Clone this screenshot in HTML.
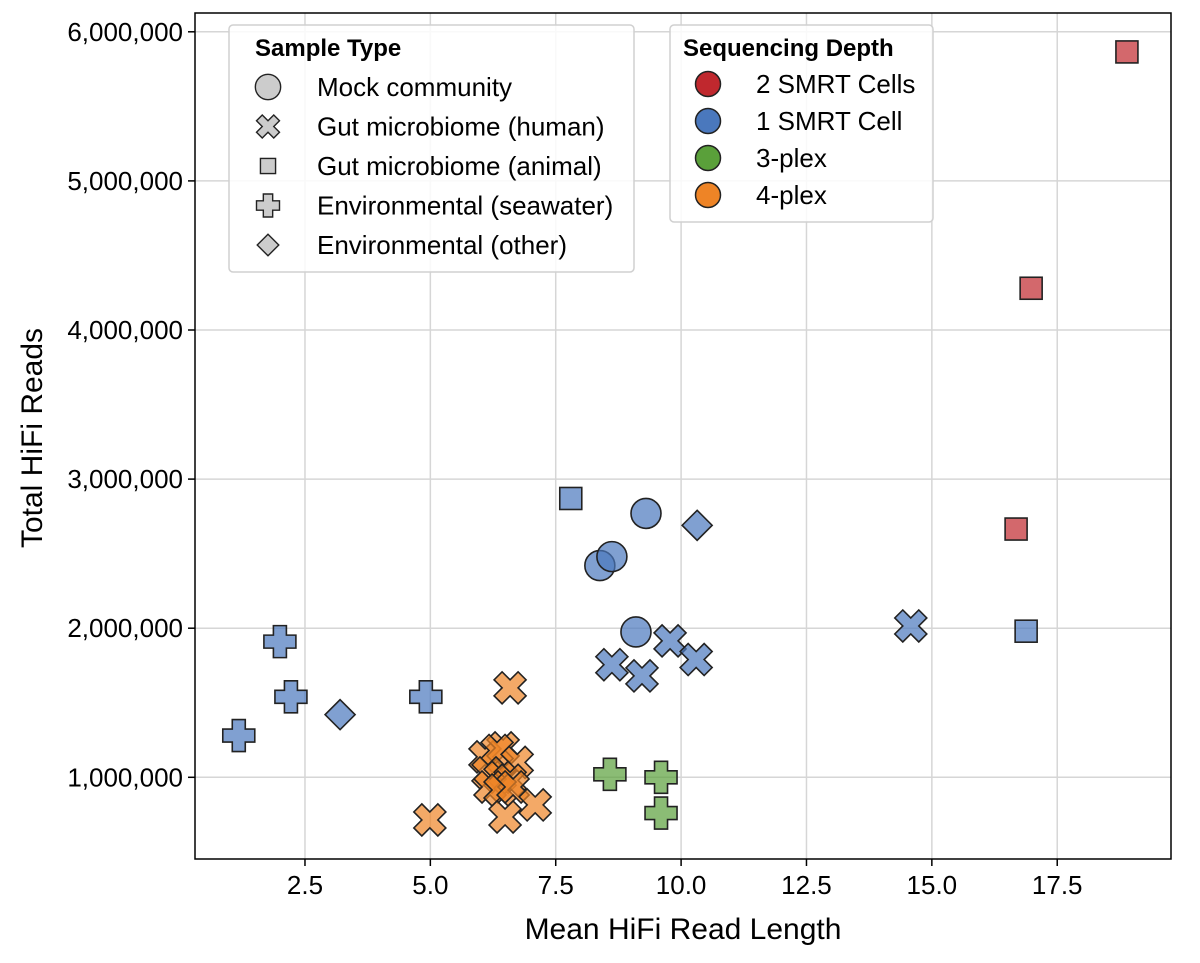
<!DOCTYPE html>
<html><head><meta charset="utf-8"><style>
body{margin:0;background:#fff;}
svg{display:block;font-family:"Liberation Sans",Arial,sans-serif;}
</style></head><body>
<svg id="chart" width="1200" height="963">
<g id="grid"></g>
<g id="axes"></g>
<g id="marks"></g>
<g id="legends"></g>
</svg>
<script>
const xTicks=[2.5,5.0,7.5,10.0,12.5,15.0,17.5];
const xTickLabels=["2.5","5.0","7.5","10.0","12.5","15.0","17.5"];
const yTicks=[1000000,2000000,3000000,4000000,5000000,6000000];
const yTickLabels=["1,000,000","2,000,000","3,000,000","4,000,000","5,000,000","6,000,000"];
const depthNames=["2 SMRT Cells","1 SMRT Cell","3-plex","4-plex"];
const depthColors=["#c0282e","#4a78bd","#5aa03a","#ee8426"];
const typeNames=["Mock community","Gut microbiome (human)","Gut microbiome (animal)","Environmental (seawater)","Environmental (other)"];
const typeShapes=["circle","x","square","plus","diamond"];
// points: mean read length (kb), total reads, sample type index, depth index
const ptX=[1.18,2.0,2.22,4.91,3.2,10.32,7.8,16.88,8.38,8.62,9.3,9.1,8.62,9.22,9.78,10.3,14.58,18.89,16.98,16.68,8.58,9.6,9.6,
 6.59,6.09,6.45,6.33,6.73,6.15,6.39,6.59,6.19,6.39,6.65,6.49,7.09,4.99];
const ptY=[1280000,1910000,1540000,1540000,1420000,2690000,2870000,1980000,2420000,2480000,2770000,1975000,1755000,1680000,1915000,1790000,2015000,5865000,4280000,2665000,1020000,1000000,760000,
 1600000,1137000,1197000,1180000,1100000,1030000,1000000,980000,935000,915000,935000,734000,815000,714000];
const ptType=[3,3,3,3,4,4,2,2,0,0,0,0,1,1,1,1,1,2,2,2,3,3,3,
 1,1,1,1,1,1,1,1,1,1,1,1,1,1];
const ptDepth=[1,1,1,1,1,1,1,1,1,1,1,1,1,1,1,1,1,0,0,0,2,2,2,
 3,3,3,3,3,3,3,3,3,3,3,3,3,3];

const L=195,R=1171,T=13,B=859;
function sx(v){return 179.6+v*50.15;}
function sy(v){return 926.4-v/1e6*149.1;}
const NS="http://www.w3.org/2000/svg";
function mk(tag,attrs,parent){const e=document.createElementNS(NS,tag);for(const k in attrs)e.setAttribute(k,attrs[k]);parent.appendChild(e);return e;}
function shape(type,cx,cy,s,parent,fill,op){
  let e;const st={fill:fill,"fill-opacity":op,stroke:"#222","stroke-width":s>14?1.6:1.4,"stroke-linejoin":"miter"};
  if(type==="circle"){e=mk("circle",Object.assign({cx:cx,cy:cy,r:15*s/16},st),parent);}
  else if(type==="square"){const h=11*s/16;e=mk("rect",Object.assign({x:cx-h,y:cy-h,width:2*h,height:2*h},st),parent);}
  else if(type==="diamond"){const h=15*s/16;e=mk("polygon",Object.assign({points:`${cx},${cy-h} ${cx+h},${cy} ${cx},${cy+h} ${cx-h},${cy}`},st),parent);}
  else if(type==="plus"){const a=16*s/16,b=6.5*s/16;
    e=mk("polygon",Object.assign({points:`${cx-b},${cy-a} ${cx+b},${cy-a} ${cx+b},${cy-b} ${cx+a},${cy-b} ${cx+a},${cy+b} ${cx+b},${cy+b} ${cx+b},${cy+a} ${cx-b},${cy+a} ${cx-b},${cy+b} ${cx-a},${cy+b} ${cx-a},${cy-b} ${cx-b},${cy-b}`},st),parent);}
  else {const a=16*s/16,w=8*s/16;
    const pts=[[0,-w],[a-w,-a],[a,-a+w],[w,0],[a,a-w],[a-w,a],[0,w],[-a+w,a],[-a,a-w],[-w,0],[-a,-a+w],[-a+w,-a]];
    e=mk("polygon",Object.assign({points:pts.map(p=>`${cx+p[0]},${cy+p[1]}`).join(" ")},st),parent);}
  return e;
}
const grid=document.getElementById('grid'),axes=document.getElementById('axes'),marks=document.getElementById('marks'),leg=document.getElementById('legends');
xTicks.forEach((v,i)=>{const x=sx(v);
  const g=mk("line",{x1:x,x2:x,y1:T,y2:B,stroke:"#d6d6d6","stroke-width":1.5},grid);
  
  
  mk("line",{x1:x,x2:x,y1:B,y2:B+7,stroke:"#000","stroke-width":1.5},axes);
  const t=mk("text",{x:x,y:B+35,"text-anchor":"middle","font-size":26},axes);t.textContent=xTickLabels[i];
  
  
});
yTicks.forEach((v,i)=>{const y=sy(v);
  const g=mk("line",{x1:L,x2:R,y1:y,y2:y,stroke:"#d6d6d6","stroke-width":1.5},grid);
  
  
  mk("line",{x1:L-7,x2:L,y1:y,y2:y,stroke:"#000","stroke-width":1.5},axes);
  const t=mk("text",{x:L-12,y:y+9,"text-anchor":"end","font-size":26},axes);t.textContent=yTickLabels[i];
  
  
});
const fr=mk("rect",{x:L,y:T,width:R-L,height:B-T,fill:"none",stroke:"#000","stroke-width":1.5},axes);


const xt=mk("text",{x:683,y:939,"text-anchor":"middle","font-size":30},axes);xt.textContent="Mean HiFi Read Length";


const yt=mk("text",{x:0,y:0,"text-anchor":"middle","font-size":30,transform:"translate(42,438) rotate(-90)"},axes);yt.textContent="Total HiFi Reads";



for(let i=0;i<ptX.length;i++){
  const e=shape(typeShapes[ptType[i]],sx(ptX[i]),sy(ptY[i]),16,marks,depthColors[ptDepth[i]],0.7);
  
  
}
// legend 1
const l1=mk("g",{},leg);


mk("rect",{x:229,y:25,width:405,height:247,rx:4,fill:"#fff","fill-opacity":0.85,stroke:"#d0d0d0","stroke-width":1.5},l1);
const t1=mk("text",{x:255,y:56,"font-size":24,"font-weight":"bold"},l1);t1.textContent="Sample Type";
typeNames.forEach((n,i)=>{const y=87+i*39.5;
  const s=shape(typeShapes[i],268,y,i===0?13.5:(i===2?11:11.5),l1,"#cccccc",1);
  
  
  const t=mk("text",{x:317,y:y+9,"font-size":26},l1);t.textContent=n;
  
  
});
const l2=mk("g",{},leg);


mk("rect",{x:670,y:25,width:263,height:197,rx:4,fill:"#fff","fill-opacity":0.85,stroke:"#d0d0d0","stroke-width":1.5},l2);
const t2=mk("text",{x:683,y:56,"font-size":24,"font-weight":"bold"},l2);t2.textContent="Sequencing Depth";
depthNames.forEach((n,i)=>{const y=84+i*37;
  const c=mk("circle",{cx:708,cy:y,r:12.5,fill:depthColors[i],stroke:"#222","stroke-width":1.5},l2);
  
  
  const t=mk("text",{x:756,y:y+9,"font-size":26},l2);t.textContent=n;
  
  
});
</script>
</body></html>
